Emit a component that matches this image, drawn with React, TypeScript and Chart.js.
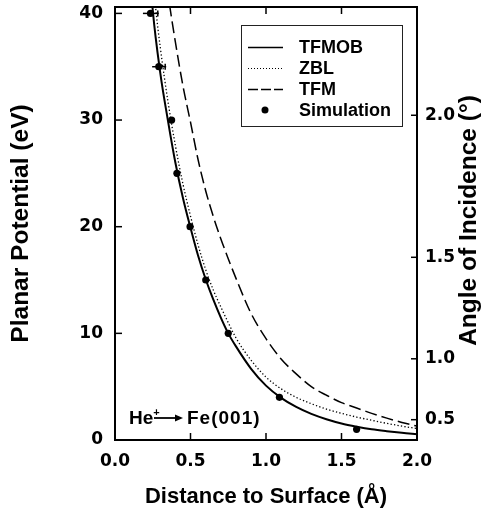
import React, { useEffect, useRef } from "react";
import { Chart, registerables } from "chart.js";

Chart.register(...registerables);

// ---- data ----
const distTFMOB = [0.22, 0.25, 0.30, 0.35, 0.40, 0.45, 0.50, 0.55, 0.60, 0.65, 0.70, 0.75, 0.80, 0.90, 1.00, 1.10, 1.20, 1.30, 1.40, 1.50, 1.60, 1.70, 1.80, 1.90, 2.00];
const potTFMOB = [46.0, 40.3, 34.4, 30.0, 26.0, 22.7, 19.9, 17.3, 15.1, 13.2, 11.5, 10.0, 8.8, 6.7, 5.1, 3.95, 3.1, 2.45, 1.95, 1.55, 1.25, 1.0, 0.82, 0.67, 0.55];

const distZBL = [0.24, 0.27, 0.30, 0.35, 0.40, 0.45, 0.50, 0.55, 0.60, 0.65, 0.70, 0.75, 0.80, 0.90, 1.00, 1.10, 1.20, 1.30, 1.40, 1.50, 1.60, 1.70, 1.80, 1.90, 2.00];
const potZBL = [45.0, 40.4, 36.8, 31.8, 27.6, 24.0, 21.0, 18.3, 16.0, 14.1, 12.5, 11.0, 9.6, 7.5, 5.9, 4.8, 4.0, 3.4, 2.9, 2.5, 2.15, 1.85, 1.56, 1.3, 1.08];

const distTFM = [0.33, 0.35, 0.40, 0.45, 0.50, 0.55, 0.60, 0.65, 0.70, 0.75, 0.80, 0.90, 1.00, 1.10, 1.20, 1.30, 1.40, 1.50, 1.60, 1.70, 1.80, 1.90, 2.00];
const potTFM = [44.0, 41.9, 37.3, 33.2, 29.8, 26.3, 23.4, 21.0, 18.9, 17.0, 15.2, 11.9, 9.5, 7.6, 6.2, 5.0, 4.2, 3.5, 3.0, 2.5, 2.05, 1.65, 1.3];

const simDist = [0.235, 0.29, 0.375, 0.41, 0.497, 0.601, 0.75, 1.089, 1.60];
const simPot = [40, 35, 30, 25, 20, 15, 10, 4, 1];
const simErrMinus = [0.05, 0.044, 0, 0, 0, 0, 0, 0, 0];
const simErrPlus = [0.055, 0.049, 0, 0, 0, 0, 0, 0, 0];

const distanceTicks = [0, 0.5, 1.0, 1.5, 2.0];
const potentialTicks = [0, 10, 20, 30, 40];
const angleTicks = [0.5, 1.0, 1.5, 2.0];
const BEAM_ENERGY_EV = 25000;

const legendLabels = ["TFMOB", "ZBL", "TFM", "Simulation"];

const TITLE_FONT = "'Liberation Sans', Arial, sans-serif";
const TICK_FONT = "'DejaVu Sans', sans-serif";

const toPts = (xs: number[], ys: number[]) => xs.map((x, i) => ({ x, y: ys[i] }));
const angleToPotential = (deg: number) => BEAM_ENERGY_EV * Math.pow(Math.sin((deg * Math.PI) / 180), 2);

const noPad = (s: any) => {
  s.paddingTop = 0;
  s.paddingBottom = 0;
  s.paddingLeft = 0;
  s.paddingRight = 0;
};

const framePlugin = {
  id: "frameTicks",
  afterDatasetsDraw(chart: any) {
    const { ctx, chartArea, scales } = chart;
    const { left, right, top, bottom } = chartArea;
    const L = 7;
    ctx.save();
    ctx.strokeStyle = "#000";
    ctx.lineCap = "butt";
    const seg = (x1: number, y1: number, x2: number, y2: number) => {
      ctx.beginPath();
      ctx.moveTo(x1, y1);
      ctx.lineTo(x2, y2);
      ctx.stroke();
    };
    ctx.lineWidth = 1.5;
    scales.x.ticks.forEach((t: any) => {
      const px = scales.x.getPixelForValue(t.value);
      if (px <= left + 1 || px >= right - 1) return;
      seg(px, bottom, px, bottom - L);
      seg(px, top, px, top + L);
    });
    scales.y.ticks.forEach((t: any) => {
      const py = scales.y.getPixelForValue(t.value);
      if (py >= bottom - 1 || py <= top + 1) return;
      seg(left, py, left + L, py);
    });
    scales.y2.ticks.forEach((t: any) => {
      const py = scales.y2.getPixelForValue(t.value);
      seg(right, py, right - L + 1, py);
    });
    // error bars
    ctx.lineWidth = 1.5;
    simDist.forEach((d, i) => {
      if (!simErrMinus[i] && !simErrPlus[i]) return;
      const py = scales.y.getPixelForValue(simPot[i]);
      const x1 = scales.x.getPixelForValue(d - simErrMinus[i]);
      const x2 = scales.x.getPixelForValue(d + simErrPlus[i]);
      seg(x1, py, x2, py);
      seg(x2 - 1, py - 3, x2 - 1, py + 3);
    });
    // frame
    ctx.lineWidth = 2;
    ctx.strokeRect(left, top, right - left, bottom - top);
    ctx.restore();
  },
};

const decorPlugin = {
  id: "decor",
  afterDraw(chart: any) {
    const { ctx, chartArea } = chart;
    ctx.save();
    // right axis title
    ctx.fillStyle = "#000";
    ctx.font = `bold 24.5px ${TITLE_FONT}`;
    ctx.textAlign = "center";
    ctx.textBaseline = "middle";
    ctx.translate(469, (chartArea.top + chartArea.bottom) / 2 - 3);
    ctx.rotate(-Math.PI / 2);
    ctx.fillText("Angle of Incidence (\u00B0)", 0, 0);
    ctx.restore();

    // legend
    ctx.save();
    const bx = 241, by = 25, bw = 161, bh = 101;
    ctx.strokeStyle = "#222";
    ctx.lineWidth = 1;
    ctx.strokeRect(bx + 0.5, by + 0.5, bw, bh);
    const order = [1, 2, 3, 0];
    order.forEach((di, row) => {
      const ds = chart.data.datasets[di];
      const y = by + 22 + row * 21;
      if (di === 0) {
        ctx.fillStyle = "#000";
        ctx.beginPath();
        ctx.arc(bx + 24, y, 3.5, 0, Math.PI * 2);
        ctx.fill();
      } else {
        ctx.strokeStyle = "#000";
        ctx.lineWidth = di === 2 ? 1 : 1.3;
        ctx.setLineDash(di === 2 ? [1, 2] : di === 3 ? [10, 3] : []);
        ctx.beginPath();
        ctx.moveTo(bx + 7, y + 0.5);
        ctx.lineTo(bx + 42, y + 0.5);
        ctx.stroke();
        ctx.setLineDash([]);
      }
      ctx.fillStyle = "#000";
      ctx.font = `bold 18px ${TITLE_FONT}`;
      ctx.textAlign = "left";
      ctx.textBaseline = "middle";
      ctx.fillText(ds.label, bx + 58, y + 1);
    });
    ctx.restore();

    // annotation He+ -> Fe(001)
    ctx.save();
    ctx.fillStyle = "#000";
    ctx.strokeStyle = "#000";
    ctx.textBaseline = "middle";
    ctx.textAlign = "left";
    ctx.font = `bold 19px ${TITLE_FONT}`;
    const ay = 418;
    ctx.fillText("He", 129, ay + 1);
    const heW = ctx.measureText("He").width;
    ctx.font = `bold 11px ${TITLE_FONT}`;
    ctx.fillText("+", 129 + heW, ay - 5);
    const ax1 = 154, ax2 = 183;
    ctx.lineWidth = 1.8;
    ctx.beginPath();
    ctx.moveTo(ax1, ay);
    ctx.lineTo(ax2 - 6, ay);
    ctx.stroke();
    ctx.beginPath();
    ctx.moveTo(ax2, ay);
    ctx.lineTo(ax2 - 8, ay - 3.5);
    ctx.lineTo(ax2 - 8, ay + 3.5);
    ctx.closePath();
    ctx.fill();
    ctx.font = `bold 19px ${TITLE_FONT}`;
    try {
      (ctx as any).letterSpacing = "1px";
    } catch (e) {}
    ctx.fillText("Fe(001)", 187, ay + 1);
    ctx.restore();
  },
};

export default function App() {
  const canvasRef = useRef<HTMLCanvasElement | null>(null);

  useEffect(() => {
    if (!canvasRef.current) return;
    const chart = new Chart(canvasRef.current, {
      type: "scatter",
      data: {
        datasets: [
          {
            label: legendLabels[3],
            data: toPts(simDist, simPot),
            showLine: false,
            pointRadius: 3.6,
            pointBackgroundColor: "#000",
            pointBorderColor: "#000",
            pointBorderWidth: 0,
            order: 0,
          },
          {
            label: legendLabels[0],
            data: toPts(distTFMOB, potTFMOB),
            showLine: true,
            borderColor: "#000",
            borderWidth: 2,
            pointRadius: 0,
            cubicInterpolationMode: "monotone",
            order: 1,
          },
          {
            label: legendLabels[1],
            data: toPts(distZBL, potZBL),
            showLine: true,
            borderColor: "#000",
            borderWidth: 1.3,
            borderDash: [1.3, 2.2],
            pointRadius: 0,
            cubicInterpolationMode: "monotone",
            order: 2,
          },
          {
            label: legendLabels[2],
            data: toPts(distTFM, potTFM),
            showLine: true,
            borderColor: "#000",
            borderWidth: 1.5,
            borderDash: [12, 5],
            pointRadius: 0,
            cubicInterpolationMode: "monotone",
            order: 3,
          },
        ],
      },
      options: {
        animation: false,
        responsive: false,
        devicePixelRatio: 1,
        layout: { padding: { top: 7, left: 0, right: 0, bottom: 0 } },
        plugins: { legend: { display: false }, tooltip: { enabled: false } },
        scales: {
          x: {
            type: "linear",
            position: "bottom",
            min: 0,
            max: 2,
            afterBuildTicks: (s: any) => {
              s.ticks = distanceTicks.map((v) => ({ value: v }));
            },
            afterFit: (s: any) => {
              s.height = 74;
              noPad(s);
            },
            ticks: {
              callback: (v: any) => Number(v).toFixed(1),
              color: "#000",
              font: { family: TICK_FONT, weight: "bold", size: 17 },
              padding: 11,
              maxRotation: 0,
            },
            grid: { display: false, drawTicks: false },
            border: { display: false },
            title: {
              display: true,
              text: "Distance to Surface (\u00C5)",
              color: "#000",
              font: { family: TITLE_FONT, weight: "bold", size: 22 },
              padding: { top: 0, bottom: 4 },
            },
          },
          y: {
            type: "linear",
            position: "left",
            min: 0,
            max: 40.6,
            afterBuildTicks: (s: any) => {
              s.ticks = potentialTicks.map((v) => ({ value: v }));
            },
            afterFit: (s: any) => {
              s.width = 115;
              noPad(s);
            },
            ticks: {
              callback: (v: any) => String(v),
              color: "#000",
              font: { family: TICK_FONT, weight: "bold", size: 17 },
              padding: 12,
            },
            grid: { display: false, drawTicks: false },
            border: { display: false },
            title: {
              display: true,
              text: "Planar Potential (eV)",
              color: "#000",
              font: { family: TITLE_FONT, weight: "bold", size: 24.5 },
              padding: { top: 7, bottom: 0 },
            },
          },
          y2: {
            type: "linear",
            position: "right",
            min: 0,
            max: 40.6,
            afterBuildTicks: (s: any) => {
              s.ticks = angleTicks.map((a) => ({ value: angleToPotential(a) }));
            },
            afterFit: (s: any) => {
              s.width = 76;
              noPad(s);
            },
            ticks: {
              callback: (_v: any, i: number) => angleTicks[i].toFixed(1),
              color: "#000",
              font: { family: TICK_FONT, weight: "bold", size: 17 },
              padding: 8,
            },
            grid: { display: false, drawTicks: false },
            border: { display: false },
          },
        },
      },
      plugins: [framePlugin, decorPlugin],
    } as any);
    return () => chart.destroy();
  }, []);

  return (
    <div style={{ position: "absolute", left: 0, top: 0, width: 493, height: 514, background: "#fff" }}>
      <canvas ref={canvasRef} width={493} height={514} style={{ display: "block" }} />
    </div>
  );
}
